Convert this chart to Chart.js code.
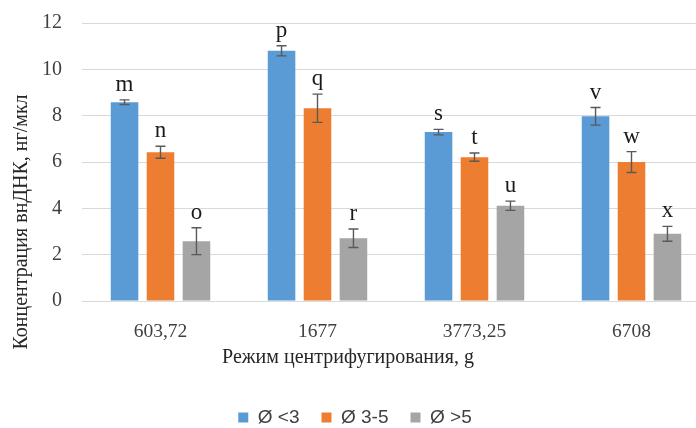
<!DOCTYPE html>
<html lang="ru">
<head>
<meta charset="utf-8">
<title>Концентрация внДНК</title>
<script src="https://cdn.jsdelivr.net/npm/chart.js@4.4.1/dist/chart.umd.min.js"></script>
<style>
  html, body { margin: 0; padding: 0; background: #ffffff; overflow: hidden; }
  canvas { display: block; }
</style>
</head>
<body>
<canvas id="chart" width="712" height="437"></canvas>
<script>
// Centrifugation modes (g) and cfDNA concentration, ng/µl
const categories = ['603,72', '1677', '3773,25', '6708'];
const seriesNames = ['Ø <3', 'Ø 3-5', 'Ø >5'];

const valuesSmall = [8.58, 10.80, 7.29, 7.97];
const valuesMid   = [6.42, 8.32, 6.21, 6.00];
const valuesLarge = [2.58, 2.71, 4.11, 2.90];

const errSmall = [0.10, 0.22, 0.12, 0.38];
const errMid   = [0.26, 0.61, 0.18, 0.45];
const errLarge = [0.58, 0.40, 0.20, 0.32];

const lettersSmall = ['m', 'p', 's', 'v'];
const lettersMid   = ['n', 'q', 't', 'w'];
const lettersLarge = ['o', 'r', 'u', 'x'];

const yTicks = [0, 2, 4, 6, 8, 10, 12];

const colors = ['#5B9BD5', '#ED7D31', '#A5A5A5'];
const serif = '"Liberation Serif", "Times New Roman", serif';
const sans = '"Liberation Sans", Arial, sans-serif';

const valueSets = [valuesSmall, valuesMid, valuesLarge];
const errorSets = [errSmall, errMid, errLarge];
const letterSets = [lettersSmall, lettersMid, lettersLarge];

// Error bars with caps and the significance letters above them
const errorBarPlugin = {
  id: 'errorBars',
  afterDatasetsDraw(chart) {
    const ctx = chart.ctx;
    const yScale = chart.scales.y;
    chart.data.datasets.forEach((ds, i) => {
      const meta = chart.getDatasetMeta(i);
      meta.data.forEach((bar, j) => {
        const v = ds.data[j];
        const e = ds.errors[j];
        const x = bar.x;
        const yTop = yScale.getPixelForValue(v + e);
        const yBot = yScale.getPixelForValue(v - e);
        ctx.save();
        ctx.strokeStyle = '#595959';
        ctx.lineWidth = 1.4;
        ctx.beginPath();
        ctx.moveTo(x, yTop); ctx.lineTo(x, yBot);
        ctx.moveTo(x - 5, yTop); ctx.lineTo(x + 5, yTop);
        ctx.moveTo(x - 5, yBot); ctx.lineTo(x + 5, yBot);
        ctx.stroke();
        ctx.fillStyle = '#1a1a1a';
        ctx.font = '23px ' + serif;
        ctx.textAlign = 'center';
        ctx.textBaseline = 'alphabetic';
        ctx.fillText(ds.letters[j], x, yTop - 9);
        ctx.restore();
      });
    });
  }
};

// Axis titles
const axisTitlePlugin = {
  id: 'axisTitles',
  afterDraw(chart) {
    const ctx = chart.ctx;
    ctx.save();
    ctx.fillStyle = '#262626';
    ctx.font = '20px ' + serif;
    ctx.textAlign = 'center';
    ctx.textBaseline = 'middle';
    ctx.fillText('Режим центрифугирования, g', 348, 358);
    ctx.translate(22, 222);
    ctx.rotate(-Math.PI / 2);
    ctx.fillText('Концентрация внДНК, нг/мкл', 0, 0);
    ctx.restore();
  }
};

const LEGEND_FONT = 19;
const LEGEND_PAD = 22;
const CANVAS_H = 437;
const PLOT_TOP = 23;
const PLOT_BOTTOM = 301;

new Chart(document.getElementById('chart'), {
  type: 'bar',
  data: {
    labels: categories,
    datasets: seriesNames.map((name, i) => ({
      label: name,
      data: valueSets[i],
      errors: errorSets[i],
      letters: letterSets[i],
      backgroundColor: colors[i],
      borderWidth: 0,
      categoryPercentage: 0.687,
      barPercentage: 0.767
    }))
  },
  options: {
    responsive: false,
    devicePixelRatio: 1,
    animation: false,
    layout: { padding: { top: PLOT_TOP, right: 2, left: 0, bottom: 0 } },
    plugins: {
      tooltip: { enabled: false },
      legend: {
        position: 'bottom',
        labels: {
          boxWidth: 10,
          boxHeight: 10,
          padding: LEGEND_PAD,
          color: '#404040',
          font: { family: sans, size: LEGEND_FONT }
        }
      }
    },
    scales: {
      x: {
        grid: { display: false, drawTicks: false },
        border: { display: false },
        ticks: {
          color: '#404040',
          font: { family: serif, size: 19.5 },
          padding: 19,
          maxRotation: 0
        },
        afterFit(scale) {
          const legendH = LEGEND_FONT + LEGEND_PAD + 10;
          scale.height = CANVAS_H - legendH - PLOT_BOTTOM;
        }
      },
      y: {
        min: 0,
        max: 12,
        afterBuildTicks(scale) {
          scale.ticks = yTicks.map(v => ({ value: v }));
        },
        grid: { color: '#D9D9D9', lineWidth: 1, drawTicks: false },
        border: { display: false },
        ticks: {
          color: '#404040',
          font: { family: serif, size: 20 },
          padding: 20
        },
        afterFit(scale) {
          scale.width = 82;
          scale.paddingTop = 0;
          scale.paddingBottom = 0;
        }
      }
    }
  },
  plugins: [errorBarPlugin, axisTitlePlugin]
});
</script>
</body>
</html>
